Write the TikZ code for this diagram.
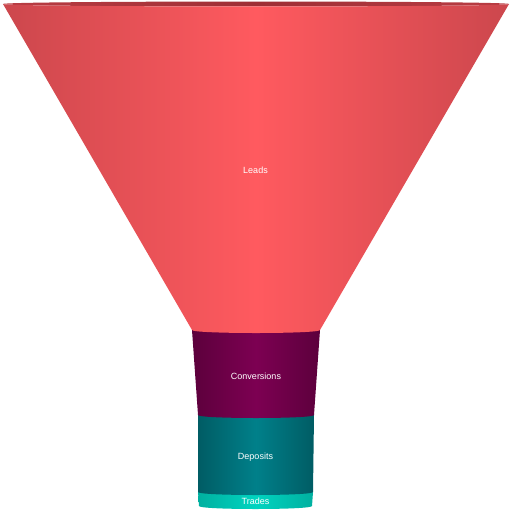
\documentclass[tikz,border=0pt]{standalone}
\usepackage{fontspec}
\setmainfont{Liberation Sans}
\definecolor{leadsmid}{HTML}{FF5A5F}
\definecolor{leadsedge}{HTML}{CC474D}
\definecolor{rimcol}{HTML}{9E2E35}
\definecolor{convmid}{HTML}{7D0052}
\definecolor{convedge}{HTML}{5C003C}
\definecolor{depmid}{HTML}{00808A}
\definecolor{depedge}{HTML}{005C64}
\definecolor{trmid}{HTML}{00D4C0}
\definecolor{tredge}{HTML}{00B0A0}
\tikzset{
  lbl/.style={text=white, font=\fontsize{9}{11}\selectfont, inner sep=0pt},
}
\begin{document}
\begin{tikzpicture}[x=1pt,y=-1pt]
\useasboundingbox (0,0) rectangle (512,512);
% Trades
\shade[left color=tredge, right color=tredge, middle color=trmid]
  (198,492) -- (313,492) -- (312,506) .. controls (312,510) and (199,510) .. (199,506) -- cycle;
% Deposits
\shade[left color=depedge, right color=depedge, middle color=depmid]
  (198,415) -- (314,415) -- (313,492) .. controls (313,496) and (198,496) .. (198,492) -- cycle;
% Conversions
\shade[left color=convedge, right color=convedge, middle color=convmid]
  (192,330) -- (320,330) -- (314,415) .. controls (314,419) and (198,419) .. (198,415) -- cycle;
% Leads rim (inside)
\shade[left color=rimcol!40!leadsedge, right color=rimcol!40!leadsedge, middle color=rimcol]
  (3,4) .. controls (3,0.7) and (509,0.7) .. (509,4) .. controls (509,7.3) and (3,7.3) .. (3,4) -- cycle;
% Leads body
\shade[left color=leadsedge, right color=leadsedge, middle color=leadsmid]
  (3,4) -- (192,330) .. controls (192,334) and (320,334) .. (320,330) -- (509,4)
  .. controls (509,7.3) and (3,7.3) .. (3,4) -- cycle;
% labels
\node[lbl] (leads) at (255.5,170) {Leads};
\node[lbl] (conv) at (256,376) {Conversions};
\node[lbl] (dep) at (255.5,457) {Deposits};
\node[lbl] (trades) at (255.5,501) {Trades};
\end{tikzpicture}
\end{document}
